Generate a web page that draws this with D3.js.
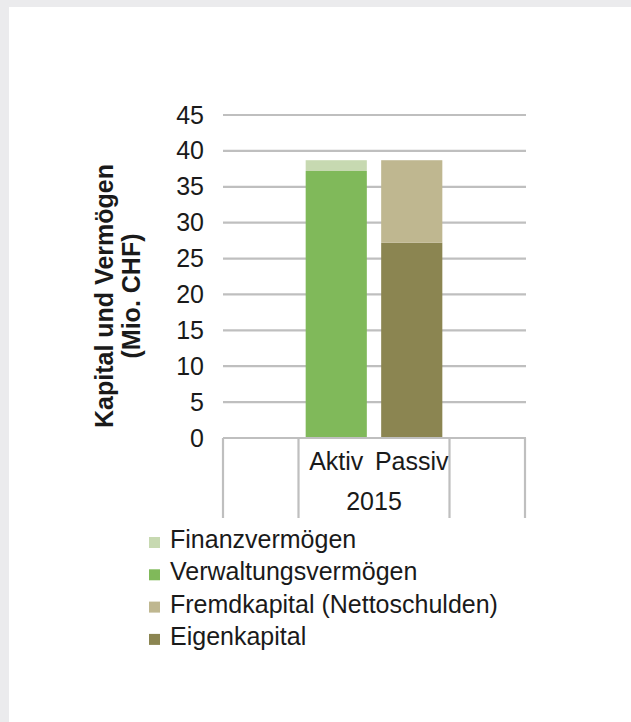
<!DOCTYPE html>
<html>
<head>
<meta charset="utf-8">
<script src="https://cdn.jsdelivr.net/npm/d3@7"></script>
<style>
  html, body { margin: 0; padding: 0; background: #ebebed; }
  svg { display: block; }
  text { font-family: "Liberation Sans", Arial, sans-serif; fill: #1a1a1a; }
</style>
</head>
<body>
<div id="chart"></div>
<script>
// Daten
var jahr = "2015";
var kategorien = ["Aktiv", "Passiv"];
var reihen = ["Verwaltungsvermögen", "Finanzvermögen", "Eigenkapital", "Fremdkapital (Nettoschulden)"];
var verwaltungsvermoegen = [37.2, 0];
var finanzvermoegen = [1.5, 0];
var eigenkapital = [0, 27.2];
var fremdkapital = [0, 11.5];
var yTicks = [0, 5, 10, 15, 20, 25, 30, 35, 40, 45];
var legende = ["Finanzvermögen", "Verwaltungsvermögen", "Fremdkapital (Nettoschulden)", "Eigenkapital"];

var farben = {
  "Finanzvermögen": "#c7d9b1",
  "Verwaltungsvermögen": "#80b95a",
  "Fremdkapital (Nettoschulden)": "#bfb790",
  "Eigenkapital": "#8b8551"
};

var W = 631, H = 722;

var svg = d3.select("#chart").append("svg")
  .attr("width", W)
  .attr("height", H);

// weisse Fläche
svg.append("rect")
  .attr("x", 9).attr("y", 7)
  .attr("width", W - 9).attr("height", H - 7)
  .attr("fill", "#fff");

// Tabelle für d3.stack
var tabelle = kategorien.map(function(k, i) {
  return {
    kat: k,
    "Verwaltungsvermögen": verwaltungsvermoegen[i],
    "Finanzvermögen": finanzvermoegen[i],
    "Eigenkapital": eigenkapital[i],
    "Fremdkapital (Nettoschulden)": fremdkapital[i]
  };
});
var stapel = d3.stack().keys(reihen)(tabelle);

// Skalen: leere Kategorie links und rechts wie im Excel-Diagramm
var x = d3.scaleBand()
  .domain(["_l"].concat(kategorien).concat(["_r"]))
  .range([223, 525])
  .padding(0);
var y = d3.scaleLinear().domain([0, 45]).range([438, 115]);
var barW = x.step() * 0.81;

// Gitterlinien
svg.append("g").selectAll("line")
  .data(yTicks.filter(function(t) { return t > 0; }))
  .enter().append("line")
  .attr("x1", 223).attr("x2", 526)
  .attr("y1", function(d) { return y(d); })
  .attr("y2", function(d) { return y(d); })
  .attr("stroke", "#bfbfbf")
  .attr("stroke-width", 2.2);

// y-Achse Beschriftung
var yAxis = d3.axisLeft(y).tickValues(yTicks).tickSize(0).tickPadding(19);
var ga = svg.append("g").attr("transform", "translate(223,0)").call(yAxis);
ga.select(".domain").remove();
ga.selectAll("text")
  .style("font-size", "25px")
  .style("font-family", "'Liberation Sans', Arial, sans-serif")
  .attr("fill", "#1a1a1a");

// Balken
svg.append("g").selectAll("g")
  .data(stapel)
  .enter().append("g")
  .attr("fill", function(d) { return farben[d.key]; })
  .selectAll("rect")
  .data(function(d) { return d; })
  .enter().append("rect")
  .attr("x", function(d) { return x(d.data.kat) + (x.step() - barW) / 2; })
  .attr("y", function(d) { return y(d[1]); })
  .attr("width", barW)
  .attr("height", function(d) { return y(d[0]) - y(d[1]); });

// x-Achse (Grundlinie + Trennstriche)
svg.append("line")
  .attr("x1", 223).attr("x2", 526)
  .attr("y1", y(0)).attr("y2", y(0))
  .attr("stroke", "#bfbfbf").attr("stroke-width", 2.2);

var trenner = [x("_l"), x("Aktiv"), x("_r"), x("_r") + x.step()];
svg.append("g").selectAll("line")
  .data(trenner)
  .enter().append("line")
  .attr("x1", function(d) { return d; })
  .attr("x2", function(d) { return d; })
  .attr("y1", y(0)).attr("y2", 518)
  .attr("stroke", "#bfbfbf").attr("stroke-width", 2.2);

svg.append("g").selectAll("text")
  .data(kategorien)
  .enter().append("text")
  .attr("x", function(d) { return x(d) + x.step() / 2; })
  .attr("y", 470)
  .attr("text-anchor", "middle")
  .style("font-size", "25px")
  .text(function(d) { return d; });

svg.append("text")
  .attr("x", (x("Aktiv") + x("Passiv") + x.step()) / 2)
  .attr("y", 510)
  .attr("text-anchor", "middle")
  .style("font-size", "25px")
  .text(jahr);

// y-Titel
var titel = svg.append("text")
  .attr("transform", "translate(104,296) rotate(-90)")
  .attr("text-anchor", "middle")
  .style("font-size", "25px")
  .style("font-weight", "bold");
titel.append("tspan").attr("x", 0).attr("dy", "0.35em").text("Kapital und Vermögen");
titel.append("tspan").attr("x", 0).attr("dy", "27px").text("(Mio. CHF)");

// Legende
var leg = svg.append("g").selectAll("g")
  .data(legende)
  .enter().append("g")
  .attr("transform", function(d, i) { return "translate(149," + (548 + i * 32.3) + ")"; });
leg.append("rect")
  .attr("x", 0).attr("y", -11)
  .attr("width", 11).attr("height", 11)
  .attr("fill", function(d) { return farben[d]; });
leg.append("text")
  .attr("x", 21).attr("y", 0)
  .style("font-size", "25px")
  .text(function(d) { return d; });
</script>
</body>
</html>
